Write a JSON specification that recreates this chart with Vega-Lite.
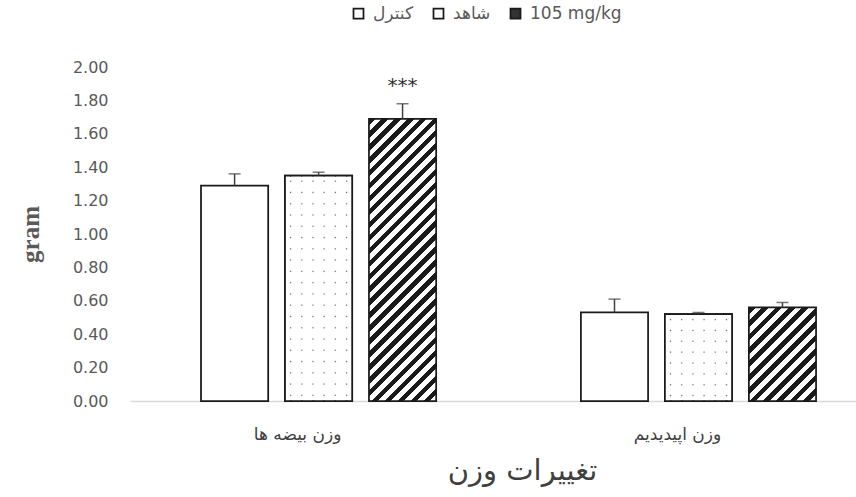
{
  "$schema": "https://vega.github.io/schema/vega-lite/v6.json",
  "width": 726,
  "height": 334,
  "autosize": "none",
  "padding": {"left": 130, "top": 67, "right": 0, "bottom": 96},
  "background": "#ffffff",
  "config": {"view": {"stroke": null}},
  "data": {"values": [
    {"group": "وزن بیضه ها", "series": "کنترل", "id": "c1", "value": 1.29, "upper": 1.36, "sig": ""},
    {"group": "وزن بیضه ها", "series": "شاهد", "id": "s1", "value": 1.35, "upper": 1.37, "sig": ""},
    {"group": "وزن بیضه ها", "series": "105 mg/kg", "id": "h1", "value": 1.69, "upper": 1.78, "sig": "***"},
    {"group": "وزن اپیدیدیم", "series": "کنترل", "id": "c2", "value": 0.53, "upper": 0.61, "sig": ""},
    {"group": "وزن اپیدیدیم", "series": "شاهد", "id": "s2", "value": 0.52, "upper": 0.53, "sig": ""},
    {"group": "وزن اپیدیدیم", "series": "105 mg/kg", "id": "h2", "value": 0.56, "upper": 0.59, "sig": ""}
  ]},
  "encoding": {
    "x": {
      "field": "group", "type": "nominal", "sort": null,
      "scale": {"domain": ["وزن بیضه ها", "وزن اپیدیدیم"], "paddingInner": 0.381, "paddingOuter": 0.146, "align": 0.64},
      "axis": {
        "title": "تغییرات وزن", "titleFont": "DejaVu Sans", "titleFontSize": 29, "titleFontWeight": "normal", "titleColor": "#404040",
        "titleX": 392, "titleY": 69, "titleAlign": "center", "titleBaseline": "middle",
        "labelAngle": 0, "labelFont": "DejaVu Sans", "labelFontSize": 17, "labelColor": "#404040", "labelPadding": 25, "labelOffset": -21,
        "ticks": false, "domainColor": "#d9d9d9", "domainWidth": 1.5, "grid": false
      }
    },
    "xOffset": {"field": "series", "type": "nominal", "scale": {"domain": ["کنترل", "شاهد", "105 mg/kg"], "paddingInner": 0.2, "paddingOuter": 0}},
    "y": {
      "field": "value", "type": "quantitative",
      "scale": {"domain": [0, 2], "nice": false},
      "axis": {
        "title": "gram", "titleFont": "Liberation Serif", "titleFontSize": 25, "titleFontWeight": "bold", "titleColor": "#595959",
        "titleX": -100, "titleY": 167, "titleAlign": "center", "titleBaseline": "middle",
        "values": [0, 0.2, 0.4, 0.6, 0.8, 1.0, 1.2, 1.4, 1.6, 1.8, 2.0], "format": ".2f", "labelOverlap": false,
        "labelFont": "DejaVu Sans", "labelFontSize": 16, "labelColor": "#595959", "labelPadding": 22,
        "ticks": false, "domain": false, "grid": false
      }
    }
  },
  "layer": [
    {
      "mark": {"type": "bar", "stroke": "#1a1a1a", "strokeWidth": 1.75},
      "encoding": {
        "fill": {
          "field": "series", "type": "nominal",
          "scale": {"domain": ["کنترل", "شاهد", "105 mg/kg"], "range": ["#ffffff", "#ffffff", "#333333"]},
          "legend": {
            "orient": "none", "legendX": 220, "legendY": -62, "direction": "horizontal", "title": null,
            "symbolType": "square", "symbolSize": 100, "symbolStrokeColor": "#1a1a1a", "symbolStrokeWidth": 1.75,
            "labelFont": "DejaVu Sans", "labelFontSize": 17, "labelColor": "#595959", "columnPadding": 16, "labelOffset": 6
          },
          "condition": [
            {"test": "datum.id === 'h1'", "value": {"gradient": "linear", "x1": 0, "y1": 0, "x2": 0.27901, "y2": 1.1717, "stops": [
              {"offset": 0, "color": "#1a1a1a"}, {"offset": 0.0185, "color": "#1a1a1a"}, {"offset": 0.0185, "color": "#ffffff"}, {"offset": 0.0370, "color": "#ffffff"},
              {"offset": 0.0370, "color": "#1a1a1a"}, {"offset": 0.0556, "color": "#1a1a1a"}, {"offset": 0.0556, "color": "#ffffff"}, {"offset": 0.0741, "color": "#ffffff"},
              {"offset": 0.0741, "color": "#1a1a1a"}, {"offset": 0.0926, "color": "#1a1a1a"}, {"offset": 0.0926, "color": "#ffffff"}, {"offset": 0.1111, "color": "#ffffff"},
              {"offset": 0.1111, "color": "#1a1a1a"}, {"offset": 0.1296, "color": "#1a1a1a"}, {"offset": 0.1296, "color": "#ffffff"}, {"offset": 0.1481, "color": "#ffffff"},
              {"offset": 0.1481, "color": "#1a1a1a"}, {"offset": 0.1667, "color": "#1a1a1a"}, {"offset": 0.1667, "color": "#ffffff"}, {"offset": 0.1852, "color": "#ffffff"},
              {"offset": 0.1852, "color": "#1a1a1a"}, {"offset": 0.2037, "color": "#1a1a1a"}, {"offset": 0.2037, "color": "#ffffff"}, {"offset": 0.2222, "color": "#ffffff"},
              {"offset": 0.2222, "color": "#1a1a1a"}, {"offset": 0.2407, "color": "#1a1a1a"}, {"offset": 0.2407, "color": "#ffffff"}, {"offset": 0.2593, "color": "#ffffff"},
              {"offset": 0.2593, "color": "#1a1a1a"}, {"offset": 0.2778, "color": "#1a1a1a"}, {"offset": 0.2778, "color": "#ffffff"}, {"offset": 0.2963, "color": "#ffffff"},
              {"offset": 0.2963, "color": "#1a1a1a"}, {"offset": 0.3148, "color": "#1a1a1a"}, {"offset": 0.3148, "color": "#ffffff"}, {"offset": 0.3333, "color": "#ffffff"},
              {"offset": 0.3333, "color": "#1a1a1a"}, {"offset": 0.3519, "color": "#1a1a1a"}, {"offset": 0.3519, "color": "#ffffff"}, {"offset": 0.3704, "color": "#ffffff"},
              {"offset": 0.3704, "color": "#1a1a1a"}, {"offset": 0.3889, "color": "#1a1a1a"}, {"offset": 0.3889, "color": "#ffffff"}, {"offset": 0.4074, "color": "#ffffff"},
              {"offset": 0.4074, "color": "#1a1a1a"}, {"offset": 0.4259, "color": "#1a1a1a"}, {"offset": 0.4259, "color": "#ffffff"}, {"offset": 0.4444, "color": "#ffffff"},
              {"offset": 0.4444, "color": "#1a1a1a"}, {"offset": 0.4630, "color": "#1a1a1a"}, {"offset": 0.4630, "color": "#ffffff"}, {"offset": 0.4815, "color": "#ffffff"},
              {"offset": 0.4815, "color": "#1a1a1a"}, {"offset": 0.5000, "color": "#1a1a1a"}, {"offset": 0.5000, "color": "#ffffff"}, {"offset": 0.5185, "color": "#ffffff"},
              {"offset": 0.5185, "color": "#1a1a1a"}, {"offset": 0.5370, "color": "#1a1a1a"}, {"offset": 0.5370, "color": "#ffffff"}, {"offset": 0.5556, "color": "#ffffff"},
              {"offset": 0.5556, "color": "#1a1a1a"}, {"offset": 0.5741, "color": "#1a1a1a"}, {"offset": 0.5741, "color": "#ffffff"}, {"offset": 0.5926, "color": "#ffffff"},
              {"offset": 0.5926, "color": "#1a1a1a"}, {"offset": 0.6111, "color": "#1a1a1a"}, {"offset": 0.6111, "color": "#ffffff"}, {"offset": 0.6296, "color": "#ffffff"},
              {"offset": 0.6296, "color": "#1a1a1a"}, {"offset": 0.6481, "color": "#1a1a1a"}, {"offset": 0.6481, "color": "#ffffff"}, {"offset": 0.6667, "color": "#ffffff"},
              {"offset": 0.6667, "color": "#1a1a1a"}, {"offset": 0.6852, "color": "#1a1a1a"}, {"offset": 0.6852, "color": "#ffffff"}, {"offset": 0.7037, "color": "#ffffff"},
              {"offset": 0.7037, "color": "#1a1a1a"}, {"offset": 0.7222, "color": "#1a1a1a"}, {"offset": 0.7222, "color": "#ffffff"}, {"offset": 0.7407, "color": "#ffffff"},
              {"offset": 0.7407, "color": "#1a1a1a"}, {"offset": 0.7593, "color": "#1a1a1a"}, {"offset": 0.7593, "color": "#ffffff"}, {"offset": 0.7778, "color": "#ffffff"},
              {"offset": 0.7778, "color": "#1a1a1a"}, {"offset": 0.7963, "color": "#1a1a1a"}, {"offset": 0.7963, "color": "#ffffff"}, {"offset": 0.8148, "color": "#ffffff"},
              {"offset": 0.8148, "color": "#1a1a1a"}, {"offset": 0.8333, "color": "#1a1a1a"}, {"offset": 0.8333, "color": "#ffffff"}, {"offset": 0.8519, "color": "#ffffff"},
              {"offset": 0.8519, "color": "#1a1a1a"}, {"offset": 0.8704, "color": "#1a1a1a"}, {"offset": 0.8704, "color": "#ffffff"}, {"offset": 0.8889, "color": "#ffffff"},
              {"offset": 0.8889, "color": "#1a1a1a"}, {"offset": 0.9074, "color": "#1a1a1a"}, {"offset": 0.9074, "color": "#ffffff"}, {"offset": 0.9259, "color": "#ffffff"},
              {"offset": 0.9259, "color": "#1a1a1a"}, {"offset": 0.9444, "color": "#1a1a1a"}, {"offset": 0.9444, "color": "#ffffff"}, {"offset": 0.9630, "color": "#ffffff"},
              {"offset": 0.9630, "color": "#1a1a1a"}, {"offset": 0.9815, "color": "#1a1a1a"}, {"offset": 0.9815, "color": "#ffffff"}, {"offset": 1, "color": "#ffffff"}
            ]}},
            {"test": "datum.id === 'h2'", "value": {"gradient": "linear", "x1": 0, "y1": 0, "x2": 0.8144, "y2": 1.13336, "stops": [
              {"offset": 0, "color": "#1a1a1a"}, {"offset": 0.0417, "color": "#1a1a1a"}, {"offset": 0.0417, "color": "#ffffff"}, {"offset": 0.0833, "color": "#ffffff"},
              {"offset": 0.0833, "color": "#1a1a1a"}, {"offset": 0.125, "color": "#1a1a1a"}, {"offset": 0.125, "color": "#ffffff"}, {"offset": 0.1667, "color": "#ffffff"},
              {"offset": 0.1667, "color": "#1a1a1a"}, {"offset": 0.2083, "color": "#1a1a1a"}, {"offset": 0.2083, "color": "#ffffff"}, {"offset": 0.25, "color": "#ffffff"},
              {"offset": 0.25, "color": "#1a1a1a"}, {"offset": 0.2917, "color": "#1a1a1a"}, {"offset": 0.2917, "color": "#ffffff"}, {"offset": 0.3333, "color": "#ffffff"},
              {"offset": 0.3333, "color": "#1a1a1a"}, {"offset": 0.375, "color": "#1a1a1a"}, {"offset": 0.375, "color": "#ffffff"}, {"offset": 0.4167, "color": "#ffffff"},
              {"offset": 0.4167, "color": "#1a1a1a"}, {"offset": 0.4583, "color": "#1a1a1a"}, {"offset": 0.4583, "color": "#ffffff"}, {"offset": 0.5, "color": "#ffffff"},
              {"offset": 0.5, "color": "#1a1a1a"}, {"offset": 0.5417, "color": "#1a1a1a"}, {"offset": 0.5417, "color": "#ffffff"}, {"offset": 0.5833, "color": "#ffffff"},
              {"offset": 0.5833, "color": "#1a1a1a"}, {"offset": 0.625, "color": "#1a1a1a"}, {"offset": 0.625, "color": "#ffffff"}, {"offset": 0.6667, "color": "#ffffff"},
              {"offset": 0.6667, "color": "#1a1a1a"}, {"offset": 0.7083, "color": "#1a1a1a"}, {"offset": 0.7083, "color": "#ffffff"}, {"offset": 0.75, "color": "#ffffff"},
              {"offset": 0.75, "color": "#1a1a1a"}, {"offset": 0.7917, "color": "#1a1a1a"}, {"offset": 0.7917, "color": "#ffffff"}, {"offset": 0.8333, "color": "#ffffff"},
              {"offset": 0.8333, "color": "#1a1a1a"}, {"offset": 0.875, "color": "#1a1a1a"}, {"offset": 0.875, "color": "#ffffff"}, {"offset": 0.9167, "color": "#ffffff"},
              {"offset": 0.9167, "color": "#1a1a1a"}, {"offset": 0.9583, "color": "#1a1a1a"}, {"offset": 0.9583, "color": "#ffffff"}, {"offset": 1, "color": "#ffffff"}
            ]}},
            {"test": "datum.id === 's1'", "value": {"gradient": "linear", "x1": 0, "y1": 0, "x2": 0, "y2": 1, "stops": [
              {"offset": 0.0195, "color": "#ffffff"}, {"offset": 0.025, "color": "#666666"}, {"offset": 0.0305, "color": "#ffffff"},
              {"offset": 0.0695, "color": "#ffffff"}, {"offset": 0.075, "color": "#666666"}, {"offset": 0.0805, "color": "#ffffff"},
              {"offset": 0.1195, "color": "#ffffff"}, {"offset": 0.125, "color": "#666666"}, {"offset": 0.1305, "color": "#ffffff"},
              {"offset": 0.1695, "color": "#ffffff"}, {"offset": 0.175, "color": "#666666"}, {"offset": 0.1805, "color": "#ffffff"},
              {"offset": 0.2195, "color": "#ffffff"}, {"offset": 0.225, "color": "#666666"}, {"offset": 0.2305, "color": "#ffffff"},
              {"offset": 0.2695, "color": "#ffffff"}, {"offset": 0.275, "color": "#666666"}, {"offset": 0.2805, "color": "#ffffff"},
              {"offset": 0.3195, "color": "#ffffff"}, {"offset": 0.325, "color": "#666666"}, {"offset": 0.3305, "color": "#ffffff"},
              {"offset": 0.3695, "color": "#ffffff"}, {"offset": 0.375, "color": "#666666"}, {"offset": 0.3805, "color": "#ffffff"},
              {"offset": 0.4195, "color": "#ffffff"}, {"offset": 0.425, "color": "#666666"}, {"offset": 0.4305, "color": "#ffffff"},
              {"offset": 0.4695, "color": "#ffffff"}, {"offset": 0.475, "color": "#666666"}, {"offset": 0.4805, "color": "#ffffff"},
              {"offset": 0.5195, "color": "#ffffff"}, {"offset": 0.525, "color": "#666666"}, {"offset": 0.5305, "color": "#ffffff"},
              {"offset": 0.5695, "color": "#ffffff"}, {"offset": 0.575, "color": "#666666"}, {"offset": 0.5805, "color": "#ffffff"},
              {"offset": 0.6195, "color": "#ffffff"}, {"offset": 0.625, "color": "#666666"}, {"offset": 0.6305, "color": "#ffffff"},
              {"offset": 0.6695, "color": "#ffffff"}, {"offset": 0.675, "color": "#666666"}, {"offset": 0.6805, "color": "#ffffff"},
              {"offset": 0.7195, "color": "#ffffff"}, {"offset": 0.725, "color": "#666666"}, {"offset": 0.7305, "color": "#ffffff"},
              {"offset": 0.7695, "color": "#ffffff"}, {"offset": 0.775, "color": "#666666"}, {"offset": 0.7805, "color": "#ffffff"},
              {"offset": 0.8195, "color": "#ffffff"}, {"offset": 0.825, "color": "#666666"}, {"offset": 0.8305, "color": "#ffffff"},
              {"offset": 0.8695, "color": "#ffffff"}, {"offset": 0.875, "color": "#666666"}, {"offset": 0.8805, "color": "#ffffff"},
              {"offset": 0.9195, "color": "#ffffff"}, {"offset": 0.925, "color": "#666666"}, {"offset": 0.9305, "color": "#ffffff"},
              {"offset": 0.9695, "color": "#ffffff"}, {"offset": 0.975, "color": "#666666"}, {"offset": 0.9805, "color": "#ffffff"}
            ]}},
            {"test": "datum.id === 's2'", "value": {"gradient": "linear", "x1": 0, "y1": 0, "x2": 0, "y2": 1, "stops": [
              {"offset": 0.0487, "color": "#ffffff"}, {"offset": 0.0625, "color": "#666666"}, {"offset": 0.0763, "color": "#ffffff"},
              {"offset": 0.1737, "color": "#ffffff"}, {"offset": 0.1875, "color": "#666666"}, {"offset": 0.2013, "color": "#ffffff"},
              {"offset": 0.2987, "color": "#ffffff"}, {"offset": 0.3125, "color": "#666666"}, {"offset": 0.3263, "color": "#ffffff"},
              {"offset": 0.4237, "color": "#ffffff"}, {"offset": 0.4375, "color": "#666666"}, {"offset": 0.4513, "color": "#ffffff"},
              {"offset": 0.5487, "color": "#ffffff"}, {"offset": 0.5625, "color": "#666666"}, {"offset": 0.5763, "color": "#ffffff"},
              {"offset": 0.6737, "color": "#ffffff"}, {"offset": 0.6875, "color": "#666666"}, {"offset": 0.7013, "color": "#ffffff"},
              {"offset": 0.7987, "color": "#ffffff"}, {"offset": 0.8125, "color": "#666666"}, {"offset": 0.8263, "color": "#ffffff"},
              {"offset": 0.9237, "color": "#ffffff"}, {"offset": 0.9375, "color": "#666666"}, {"offset": 0.9513, "color": "#ffffff"}
            ]}}
          ]
        }
      }
    },
    {
      "transform": [{"filter": "datum.series === 'شاهد'"}],
      "mark": {"type": "bar", "stroke": "#1a1a1a", "strokeWidth": 1.75,
        "fill": {"gradient": "linear", "x1": 0, "y1": 0, "x2": 1, "y2": 0, "stops": [
          {"offset": 0, "color": "#ffffff"},
          {"offset": 0.0653, "color": "#ffffff"}, {"offset": 0.0833, "color": "rgba(255,255,255,0)"}, {"offset": 0.1013, "color": "#ffffff"},
          {"offset": 0.232, "color": "#ffffff"}, {"offset": 0.25, "color": "rgba(255,255,255,0)"}, {"offset": 0.268, "color": "#ffffff"},
          {"offset": 0.3987, "color": "#ffffff"}, {"offset": 0.4167, "color": "rgba(255,255,255,0)"}, {"offset": 0.4347, "color": "#ffffff"},
          {"offset": 0.5653, "color": "#ffffff"}, {"offset": 0.5833, "color": "rgba(255,255,255,0)"}, {"offset": 0.6013, "color": "#ffffff"},
          {"offset": 0.732, "color": "#ffffff"}, {"offset": 0.75, "color": "rgba(255,255,255,0)"}, {"offset": 0.768, "color": "#ffffff"},
          {"offset": 0.8987, "color": "#ffffff"}, {"offset": 0.9167, "color": "rgba(255,255,255,0)"}, {"offset": 0.9347, "color": "#ffffff"},
          {"offset": 1, "color": "#ffffff"}
        ]}}
    },
    {
      "mark": {"type": "rule", "color": "#404040", "strokeWidth": 1.5},
      "encoding": {
        "y2": {"field": "upper"}
      }
    },
    {
      "mark": {"type": "tick", "color": "#404040", "thickness": 1.5, "size": 12, "yOffset": 0},
      "encoding": {
        "y": {
          "field": "upper", "type": "quantitative",
          "axis": {
            "title": "gram", "titleFont": "Liberation Serif", "titleFontSize": 25, "titleFontWeight": "bold", "titleColor": "#595959",
            "titleX": -100, "titleY": 167, "titleAlign": "center", "titleBaseline": "middle",
            "values": [0, 0.2, 0.4, 0.6, 0.8, 1.0, 1.2, 1.4, 1.6, 1.8, 2.0], "format": ".2f", "labelOverlap": false,
            "labelFont": "DejaVu Sans", "labelFontSize": 16, "labelColor": "#595959", "labelPadding": 22,
            "ticks": false, "domain": false, "grid": false
          }
        }
      }
    },
    {
      "mark": {"type": "text", "font": "DejaVu Sans", "fontSize": 20, "color": "#333333", "baseline": "alphabetic", "dy": -12},
      "encoding": {
        "y": {
          "field": "upper", "type": "quantitative",
          "axis": {
            "title": "gram", "titleFont": "Liberation Serif", "titleFontSize": 25, "titleFontWeight": "bold", "titleColor": "#595959",
            "titleX": -100, "titleY": 167, "titleAlign": "center", "titleBaseline": "middle",
            "values": [0, 0.2, 0.4, 0.6, 0.8, 1.0, 1.2, 1.4, 1.6, 1.8, 2.0], "format": ".2f", "labelOverlap": false,
            "labelFont": "DejaVu Sans", "labelFontSize": 16, "labelColor": "#595959", "labelPadding": 22,
            "ticks": false, "domain": false, "grid": false
          }
        },
        "text": {"field": "sig"}
      }
    }
  ]
}
